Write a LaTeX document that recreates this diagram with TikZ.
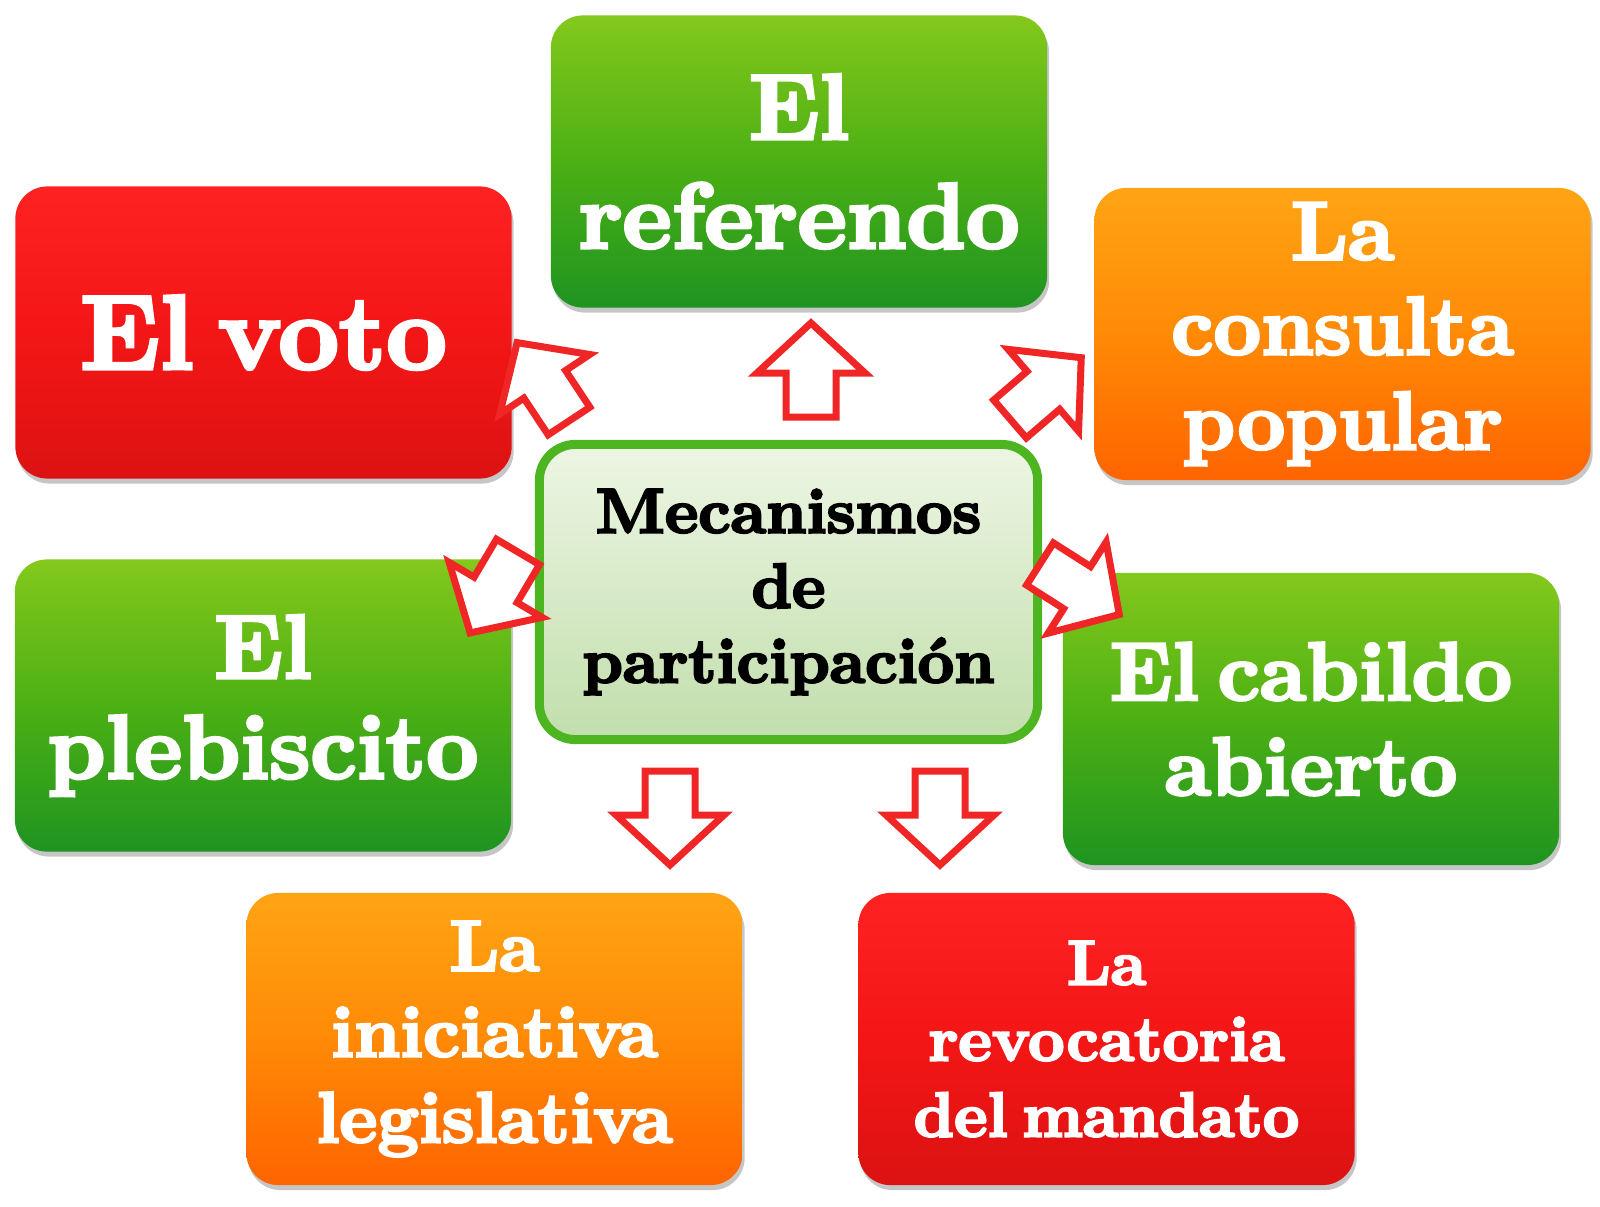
\documentclass[tikz,border=0pt]{standalone}
\usepackage{fontspec}
\newfontfamily\fatfont{lmroman10-bold.otf}[FakeBold=3.5, WordSpace=0.6]
\usetikzlibrary{shadows}
\definecolor{gTop}{HTML}{84C81C}
\definecolor{gMid}{HTML}{4CB014}
\definecolor{gBot}{HTML}{1E9420}
\definecolor{rTop}{HTML}{FF2222}
\definecolor{rMid}{HTML}{F41616}
\definecolor{rBot}{HTML}{DC1212}
\definecolor{oTop}{HTML}{FFA414}
\definecolor{oMid}{HTML}{FF8A06}
\definecolor{oBot}{HTML}{FF6400}
\definecolor{cTop}{HTML}{EDF6E4}
\definecolor{cBot}{HTML}{C2DEAC}
\definecolor{cBorder}{HTML}{4DB51F}
\definecolor{arrowred}{HTML}{F02626}
\pgfdeclareverticalshading{greenshade}{100bp}{color(0bp)=(gBot); color(25bp)=(gBot); color(50bp)=(gMid); color(75bp)=(gTop); color(100bp)=(gTop)}
\pgfdeclareverticalshading{redshade}{100bp}{color(0bp)=(rBot); color(25bp)=(rBot); color(50bp)=(rMid); color(75bp)=(rTop); color(100bp)=(rTop)}
\pgfdeclareverticalshading{orangeshade}{100bp}{color(0bp)=(oBot); color(25bp)=(oBot); color(50bp)=(oMid); color(75bp)=(oTop); color(100bp)=(oTop)}
\pgfdeclareverticalshading{centershade}{100bp}{color(0bp)=(cBot); color(25bp)=(cBot); color(75bp)=(cTop); color(100bp)=(cTop)}
\tikzset{
  mbox/.style={rounded corners=0.32cm, minimum width=4.96cm, minimum height=2.92cm,
    inner sep=0pt, align=center, text=white,
    drop shadow={shadow xshift=0.02cm, shadow yshift=-0.05cm, opacity=0.45}},
  greenbox/.style={mbox, shading=greenshade},
  redbox/.style={mbox, shading=redshade},
  orangebox/.style={mbox, shading=orangeshade},
  centerbox/.style={rounded corners=0.36cm, minimum width=4.98cm, minimum height=2.95cm,
    inner sep=0pt, align=center, text=black, shading=centershade,
    draw=cBorder, line width=0.09cm,
    drop shadow={shadow xshift=0.02cm, shadow yshift=-0.04cm, opacity=0.3}},
  fsize/.style 2 args={font=\fatfont\fontsize{#1}{#2}\selectfont},
  arrowline/.style={draw=arrowred, fill=white, line width=0.07cm, line join=miter},
  hollowarrow/.pic={\path[arrowline] (0,-25)--(44,-25)--(44,-54)--(94,0)--(44,54)--(44,25)--(0,25)--cycle;}
}
\begin{document}
\begin{tikzpicture}[x=0.01cm,y=-0.01cm]
\path[use as bounding box] (0,0) rectangle (1600,1206);
% boxes
\node[redbox, fsize={30}{33}] (voto) at (263.5,332.5) {El voto};
\node[greenbox, fsize={26.5}{31}] (referendo) at (799,161.5) {El\\referendo};
\node[orangebox, fsize={23.5}{27}] (consulta) at (1342.5,334) {La\\consulta\\popular};
\node[centerbox, fsize={18}{21.3}] (centro) at (788.5,592) {Mecanismos\\de\\participación};
\node[greenbox, fsize={25.8}{28.5}] (plebiscito) at (263,705.5) {El\\plebiscito};
\node[greenbox, fsize={23.5}{27}] (cabildo) at (1311,719) {El cabildo\\abierto};
\node[orangebox, fsize={20.5}{24.4}] (iniciativa) at (494.5,1039) {La\\iniciativa\\legislativa};
\node[redbox, fsize={18}{21.6}] (revocatoria) at (1106.5,1039) {La\\revocatoria\\del mandato};
% arrows
\pic[rotate=90] (aRef) at (811,417) {hollowarrow};
\pic[rotate=123.5] (aVoto) at (569,421) {hollowarrow};
\pic[rotate=40.7] (aCons) at (1010,419) {hollowarrow};
\pic[rotate=239.4] (aPleb) at (518,552) {hollowarrow};
\pic[rotate=-32.5] (aCab) at (1040,564) {hollowarrow};
\pic[rotate=-90] (aIni) at (670,771) {hollowarrow};
\pic[rotate=-90] (aRev) at (940,771) {hollowarrow};
\end{tikzpicture}
\end{document}
